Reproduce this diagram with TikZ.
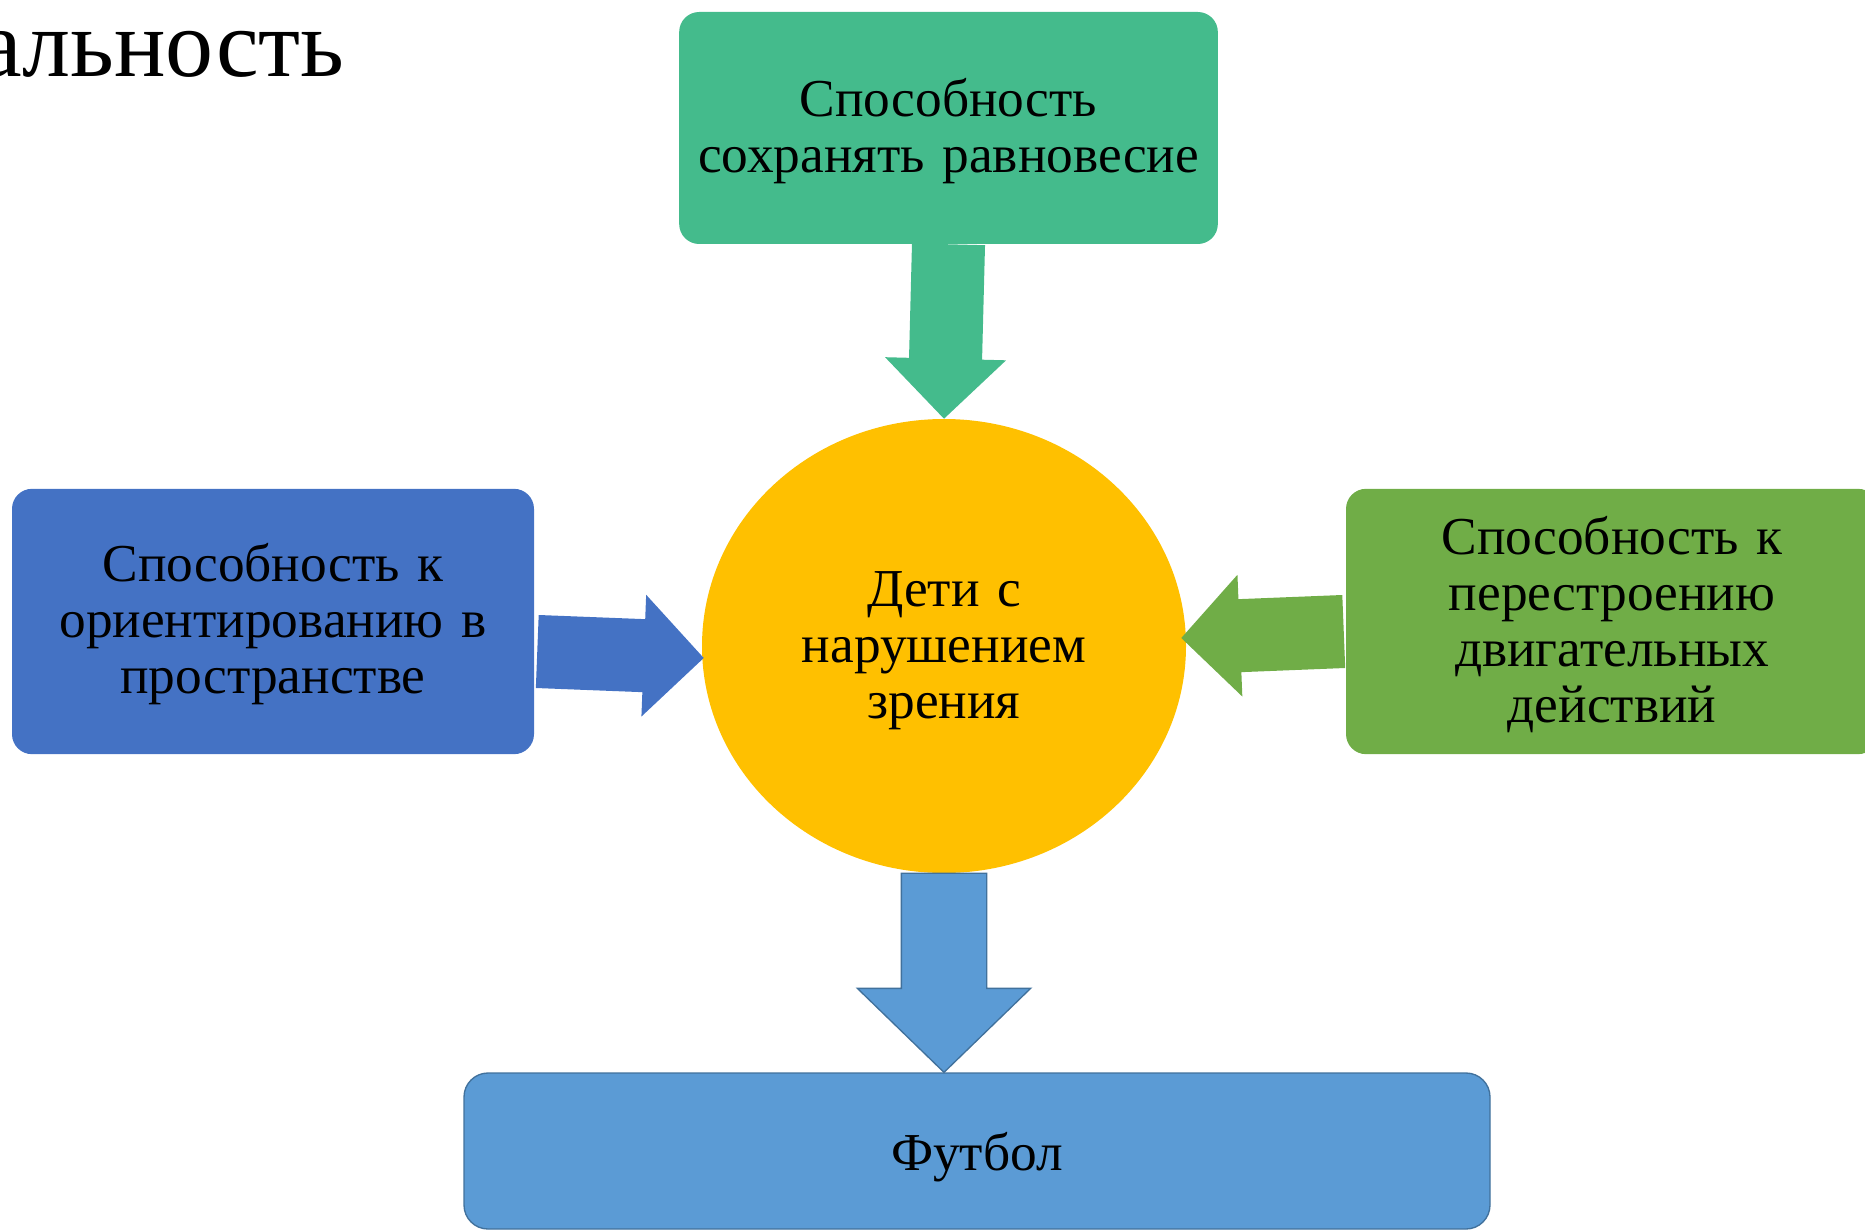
\documentclass[tikz,border=0pt]{standalone}
\usepackage{fontspec}
\setmainfont{Liberation Serif}
\usetikzlibrary{shapes}
\usetikzlibrary{calc}

\definecolor{boxteal}{HTML}{44BB8C}
\definecolor{boxblue}{HTML}{4472C4}
\definecolor{boxgreen}{HTML}{70AD47}
\definecolor{boxsky}{HTML}{5B9BD5}
\definecolor{skyline}{HTML}{41719C}
\definecolor{sunyellow}{HTML}{FFC000}

\begin{document}
\begin{tikzpicture}
[x=0.75pt, y=-0.75pt,
box/.style      = {rectangle, rounded corners=15pt, inner sep=0pt, text width=380pt, text height=33pt, align=center, font=\fontsize{40}{42}\selectfont},
center/.style   = {ellipse, fill=sunyellow, inner sep=0pt, text width=240pt, text height=33pt, align=center, font=\fontsize{40}{42}\selectfont},
title/.style    = {inner sep=0pt, font=\fontsize{72}{80}\selectfont},
big shaft/.store in = \bigshaft, big shaft=27pt,
big head/.store in  = \bighead,  big head=45pt,
big len/.store in   = \biglen,   big len=45pt,
bigarrow/.style = {to path={
  ($(\tikztostart)!\bigshaft!90:(\tikztotarget)$)
  -- ($($(\tikztotarget)!\biglen!(\tikztostart)$)!\bigshaft!90:(\tikztotarget)$)
  -- ($($(\tikztotarget)!\biglen!(\tikztostart)$)!\bighead!90:(\tikztotarget)$)
  -- (\tikztotarget)
  -- ($($(\tikztotarget)!\biglen!(\tikztostart)$)!\bighead!-90:(\tikztotarget)$)
  -- ($($(\tikztotarget)!\biglen!(\tikztostart)$)!\bigshaft!-90:(\tikztotarget)$)
  -- ($(\tikztostart)!\bigshaft!-90:(\tikztotarget)$)
  -- cycle}}
]
\useasboundingbox (0,0) rectangle (1865,1230);

\node [title, anchor=base east] (heading) at (345,77) {альность};

% boxes
\node [box, fill=boxteal, minimum width=404pt, minimum height=174pt] (balance) at (948.5,128) {Способность\\сохранять равновесие};
\node [box, fill=boxblue, minimum width=391.5pt, minimum height=199pt] (space) at (273,621.5) {Способность к\\ориентированию в\\пространстве};
\node [box, fill=boxgreen, minimum width=399pt, minimum height=199pt] (motor) at (1612,621.5) {Способность к\\перестроению\\двигательных\\действий};
\node [center, minimum width=363pt, minimum height=340.5pt] (kids) at (944,646) {Дети с\\нарушением\\зрения};
\node [box, fill=boxsky, draw=skyline, line width=1pt, rounded corners=18pt, text width=700pt, text height=38pt, minimum width=769.5pt, minimum height=117pt] (football) at (977,1151) {Футбол};

% arrow ends on the circle
\coordinate (spaceto) at ([shift={(2,12)}]kids.west);
\coordinate (motorto) at ([shift={(-5,-8)}]kids.east);

% arrows
\begin{scope}[every path/.style=bigarrow]
\path [fill=boxteal, big shaft=27.4pt, big head=45.4pt, big len=45pt] (balance.south) to (kids.north);
\path [fill=boxblue, big shaft=27.4pt, big head=45.7pt, big len=45pt] ([shift={(3,30)}]space.east) to (spaceto);
\path [fill=boxgreen, big shaft=27.4pt, big head=45.7pt, big len=44pt] ([shift={(-2,10)}]motor.west) to (motorto);
\path [fill=boxsky, draw=skyline, line width=1pt, big shaft=32pt, big head=65pt, big len=63pt] (kids.south) to (kids.south |- football.north);
\end{scope}

\end{tikzpicture}
\end{document}
